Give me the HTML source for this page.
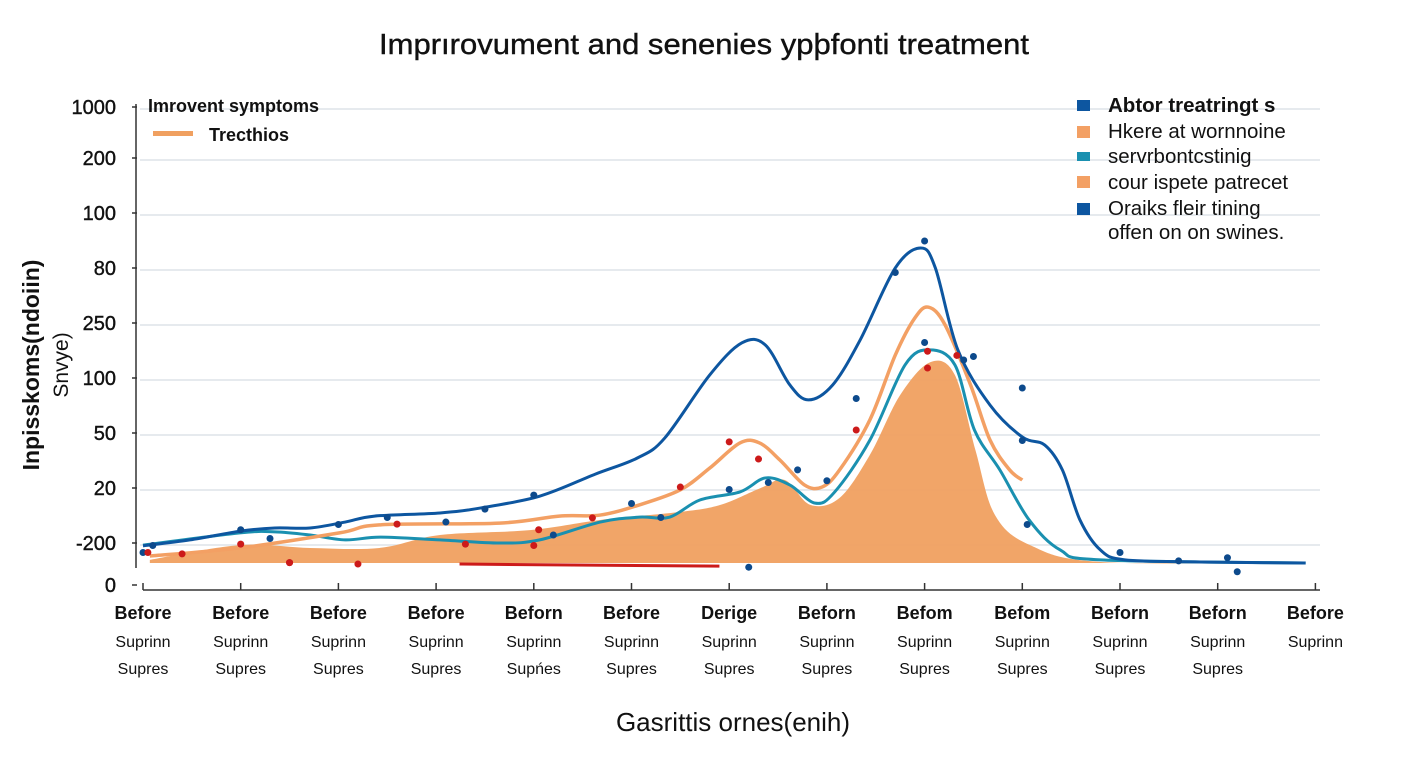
<!DOCTYPE html>
<html><head><meta charset="utf-8"><style>
html,body{margin:0;padding:0;background:#fff;}
svg{display:block;font-family:"Liberation Sans",Arial,sans-serif;}
</style></head><body>
<svg id="chart" width="1408" height="768" viewBox="0 0 1408 768">
<rect width="1408" height="768" fill="#fff"/>
<text x="704" y="54" text-anchor="middle" font-size="29" fill="#111" stroke="#111" stroke-width="0.4" textLength="650" lengthAdjust="spacingAndGlyphs">Imprırovument and senenies ypþfonti treatment</text>
<g id="grid"></g>
<g id="yaxis"></g>
<g id="xaxis"></g>
<g id="series"></g>
<g>
<text transform="translate(39,365) rotate(-90)" text-anchor="middle" font-size="23" font-weight="bold" fill="#111">Inpisskoms(ndoiin)</text>
<text transform="translate(68,365) rotate(-90)" text-anchor="middle" font-size="21" fill="#111">Snvye)</text>
</g>
<text x="733" y="731" text-anchor="middle" font-size="26" fill="#111">Gasrittis ornes(enih)</text>
<g>
<text x="148" y="112" font-size="18" font-weight="bold" fill="#111">Imrovent symptoms</text>
<rect x="153" y="131" width="40" height="5" fill="#f0a060"/>
<text x="209" y="141" font-size="18" font-weight="bold" fill="#111">Trecthios</text>
</g>
<g font-size="20.5" fill="#111">
<rect x="1077" y="100" width="13" height="11" fill="#0d56a0"/>
<text x="1108" y="112" font-weight="bold">Abtor treatringt s</text>
<rect x="1077" y="126" width="13" height="12" fill="#f3a064"/>
<text x="1108" y="138">Hkere at wornnoine</text>
<rect x="1077" y="152" width="13" height="9" fill="#1a90b0"/>
<text x="1108" y="163">servrbontcstinig</text>
<rect x="1077" y="176" width="13" height="12" fill="#f3a064"/>
<text x="1108" y="189">cour ispete patrecet</text>
<rect x="1077" y="203" width="13" height="12" fill="#0d56a0"/>
<text x="1108" y="215">Oraiks fleir tining</text>
<text x="1108" y="239">offen on on swines.</text>
</g>
</svg>
<script>
const yTickLabels=["1000","200","100","80","250","100","50","20","-200","0"];
const categories=["Before","Before","Before","Before","Beforn","Before","Derige","Beforn","Befom","Befom","Beforn","Beforn","Before"];
const sub1=["Suprinn","Suprinn","Suprinn","Suprinn","Suprinn","Suprinn","Suprinn","Suprinn","Suprinn","Suprinn","Suprinn","Suprinn","Suprinn"];
const sub2=["Supres","Supres","Supres","Supres","Supńes","Supres","Supres","Supres","Supres","Supres","Supres","Supres",""];
const blueX=[0,0.48,1,1.35,1.71,2.07,2.37,3.04,3.45,4.06,4.63,5.06,5.34,5.8,6.13,6.37,6.62,6.81,7.06,7.34,7.7,7.96,8.11,8.34,8.67,9.0,9.23,9.41,9.59,9.8,10.05,10.82,11.9];
const blueY=[4.9,6.6,9.1,10,10,11.7,13.4,14.3,15.7,19.1,25.4,30,35.7,53.7,62.9,62.3,50.9,46.6,50.9,63.7,84.3,90,84.3,60.9,45.1,36,33.7,26.6,12.3,3.7,0.9,0.3,0];
const orangeX=[0.07,0.99,2.01,2.42,3.65,4.26,4.68,5.08,5.5,5.8,6.11,6.31,6.52,6.77,6.95,7.13,7.44,7.7,7.9,8.04,8.21,8.47,8.67,8.87,9.0];
const orangeY=[2,4.3,8.6,10.9,11.4,13.4,13.7,16.6,20.9,27.1,34.3,34.3,29.4,22.3,21.7,26.6,40.9,59.4,70,73.1,68,50.9,35.1,26.6,23.7];
const tealX=[0,0.99,1.35,1.71,2.07,2.43,3.04,3.65,4.06,4.68,5.08,5.39,5.7,6.11,6.37,6.62,6.88,7.08,7.44,7.8,8.05,8.31,8.51,8.77,9.07,9.39,9.8,11.9];
const tealY=[5.1,8.6,8.9,8,6.6,7.4,6.6,5.7,6.6,11.7,13.1,13.1,18,20.3,24.3,22.3,17.1,20.3,35.1,56.6,60.9,56.6,38,26.6,12.3,3.7,0.9,0];
const areaX=[0.07,0.99,1.71,2.42,3.04,3.96,4.68,5.5,5.91,6.32,6.57,6.83,7.13,7.44,7.75,8.06,8.31,8.52,8.72,9.08,9.8,11.9];
const areaY=[0.9,5.1,4.3,4.3,8,9.4,12.3,14.6,16.6,21.4,23.7,16.6,18.6,30.9,48,57.4,53.7,32.3,13.7,5.1,0.3,0];
const redLineX=[3.24,5.9];
const redLineY=[-0.3,-0.9];
const blueDotX=[0,0.1,1,1.3,2,2.5,3.1,3.5,4,4.2,5,5.3,6,6.2,6.4,6.7,7.0,7.3,7.7,8.0,8.0,8.4,8.5,9.0,9.0,9.05,10.0,10.6,11.1,11.2];
const blueDotY=[3,5,9.5,7,11,13,11.7,15.4,19.4,8,17,13,21,-1.2,23,26.6,23.5,47,83,92,63,58,59,50,35,11,3,0.6,1.5,-2.5];
const redDotX=[0.05,0.4,1,1.5,2.6,3.3,4.0,4.05,4.6,5.5,6.0,6.3,7.3,8.03,8.03,8.33,2.2,1.5];
const redDotY=[3,2.6,5.4,0.1,11.1,5.4,5,9.5,12.9,21.7,34.6,29.7,38,55.7,60.5,59.3,-0.3,0.1];

const X0=143,XS=97.7,Y0=563,YS=3.5;
const sx=v=>X0+v*XS, sy=v=>Y0-v*YS;
const NS="http://www.w3.org/2000/svg";
function mk(tag,attrs,parent){const e=document.createElementNS(NS,tag);for(const k in attrs)e.setAttribute(k,attrs[k]);parent.appendChild(e);return e;}
function smooth(xs,ys){const p=xs.map((x,i)=>[sx(x),sy(ys[i])]);let d="M"+p[0][0]+","+p[0][1];
for(let i=0;i<p.length-1;i++){const a=p[i-1]||p[i],b=p[i],c=p[i+1],e=p[i+2]||c;
d+=` C${b[0]+(c[0]-a[0])/6},${b[1]+(c[1]-a[1])/6} ${c[0]-(e[0]-b[0])/6},${c[1]-(e[1]-b[1])/6} ${c[0]},${c[1]}`;}return d;}
const grid=document.getElementById('grid'),ya=document.getElementById('yaxis'),xa=document.getElementById('xaxis'),sr=document.getElementById('series');
const tickY=[107,158,213,268,323,378,433,488,543,585];
yTickLabels.forEach((t,i)=>{
 const y=tickY[i];
 if(i<yTickLabels.length-1){const g=mk('line',{x1:140,x2:1320,y1:y+2,y2:y+2,stroke:'#dde3e8','stroke-width':1.5},grid);
 
 }
 const tx=mk('text',{x:116,y:y+7,'text-anchor':'end','font-size':20,fill:'#111',stroke:'#111','stroke-width':0.4},ya);tx.textContent=t;
 
 
 mk('line',{x1:132,x2:137,y1:y,y2:y,stroke:'#333','stroke-width':1.5},ya);
});
mk('line',{x1:136,x2:136,y1:104,y2:568,stroke:'#333','stroke-width':1.5},ya);
mk('line',{x1:143,x2:1320,y1:590,y2:590,stroke:'#333','stroke-width':1.5},xa);
categories.forEach((c,i)=>{const x=sx(i);
 mk('line',{x1:x,x2:x,y1:583,y2:590,stroke:'#333','stroke-width':1.5},xa);
 const t=mk('text',{x:x,y:619,'text-anchor':'middle','font-size':18,'font-weight':'bold',fill:'#111'},xa);t.textContent=c;
 
 
 const t2=mk('text',{x:x,y:647,'text-anchor':'middle','font-size':16,fill:'#111'},xa);t2.textContent=sub1[i];
 const t3=mk('text',{x:x,y:674,'text-anchor':'middle','font-size':16,fill:'#111'},xa);t3.textContent=sub2[i];
});
const area=mk('path',{d:smooth(areaX,areaY)+` L${sx(areaX[areaX.length-1])},${sy(0)} L${sx(areaX[0])},${sy(0)} Z`,fill:'#f0a060',opacity:0.95},sr);


const tl=mk('path',{d:smooth(tealX,tealY),fill:'none',stroke:'#1a90b0','stroke-width':3},sr);


const ol=mk('path',{d:smooth(orangeX,orangeY),fill:'none',stroke:'#f3a064','stroke-width':3.5},sr);


const bl=mk('path',{d:smooth(blueX,blueY),fill:'none',stroke:'#0d56a0','stroke-width':3},sr);


const rl=mk('path',{d:smooth(redLineX,redLineY),fill:'none',stroke:'#cc1a1a','stroke-width':3},sr);


blueDotX.forEach((x,i)=>{const c=mk('circle',{cx:sx(x),cy:sy(blueDotY[i]),r:3.5,fill:'#0d4a8c'},sr);
 
 });
redDotX.forEach((x,i)=>{const c=mk('circle',{cx:sx(x),cy:sy(redDotY[i]),r:3.5,fill:'#cc1a1a'},sr);
 
 });
</script>
</body></html>
